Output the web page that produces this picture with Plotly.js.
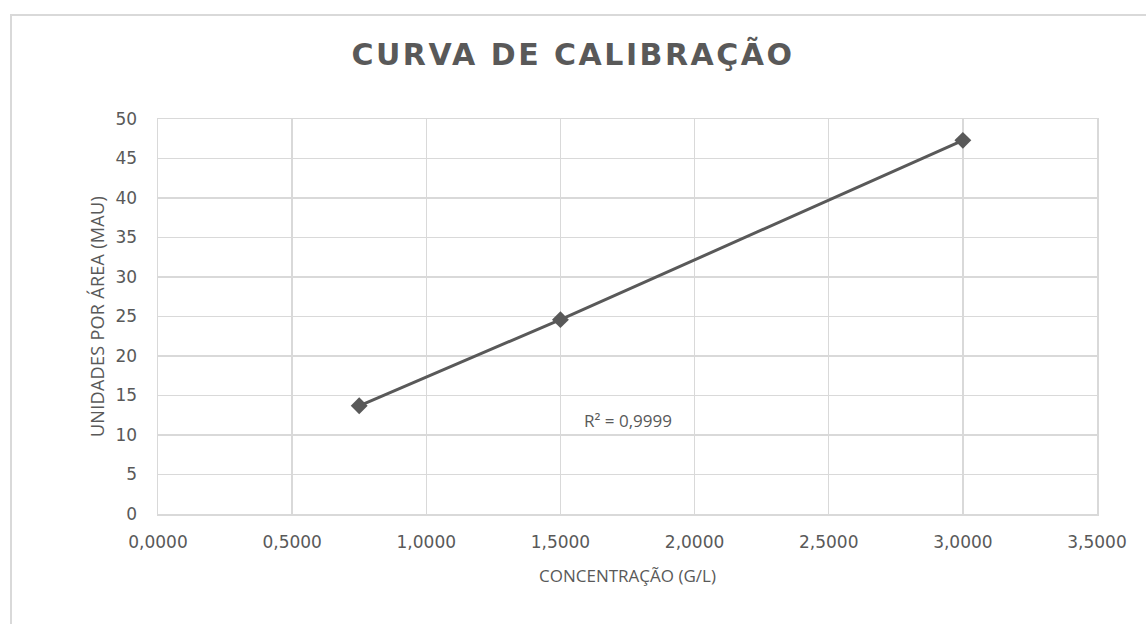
<!DOCTYPE html>
<html>
<head>
<meta charset="utf-8">
<script src="https://cdn.plot.ly/plotly-3.0.1.min.js"></script>
<style>
html,body{margin:0;padding:0;background:#fff;}
#wrap{position:relative;width:1146px;height:624px;overflow:hidden;}
#frame{position:absolute;left:10px;top:14px;width:1200px;height:700px;border:2px solid #d9d9d9;box-sizing:border-box;}
#chart{position:absolute;left:0;top:0;width:1146px;height:624px;}
</style>
</head>
<body>
<div id="wrap"><div id="frame"></div><div id="chart"></div></div>
<script>
const concentracao = [0.75, 1.5, 3.0];
const area = [13.7, 24.6, 47.3];
const xTickVals = [0, 0.5, 1.0, 1.5, 2.0, 2.5, 3.0, 3.5];
const xTickText = ["0,0000","0,5000","1,0000","1,5000","2,0000","2,5000","3,0000","3,5000"];
const yTickVals = [0,5,10,15,20,25,30,35,40,45,50];
const r2Label = "R² = 0,9999";

const gray = '#595959';
const font = '"Open Sans", "Liberation Sans", sans-serif';
const tickFont = '"DejaVu Sans", sans-serif';

Plotly.newPlot('chart', [{
  x: concentracao, y: area, type: 'scatter', mode: 'lines+markers',
  line: {color: gray, width: 3},
  marker: {symbol: 'diamond', size: 13, color: gray},
  hoverinfo: 'none', showlegend: false
}], {
  width: 1146, height: 624,
  paper_bgcolor: 'rgba(0,0,0,0)', plot_bgcolor: 'rgba(0,0,0,0)',
  margin: {l: 158, r: 49, t: 119, b: 110},
  title: {text: '<b>CURVA DE CALIBRAÇÃO</b>', x: 0.5, xanchor: 'center', y: 0.912, yanchor: 'middle',
    font: {family: '"DejaVu Sans", sans-serif', size: 30, color: gray}},
  xaxis: {range: [0, 3.5], tickvals: xTickVals, ticktext: xTickText,
    showgrid: true, gridcolor: '#d9d9d9', gridwidth: 1.5,
    showline: true, linecolor: '#d9d9d9', linewidth: 1.5, mirror: true,
    zeroline: false, ticks: '', ticklen: 0, ticklabelstandoff: 12,
    tickfont: {family: tickFont, size: 17, color: gray},
    title: {text: 'CONCENTRAÇÃO (G/L)', standoff: 19, font: {family: font, size: 17, color: gray}}},
  yaxis: {range: [0, 50], tickvals: yTickVals,
    showgrid: true, gridcolor: '#d9d9d9', gridwidth: 1.5,
    showline: true, linecolor: '#d9d9d9', linewidth: 1.5, mirror: true,
    zeroline: false, ticks: '', ticklen: 0, ticklabelstandoff: 16,
    tickfont: {family: tickFont, size: 17, color: gray},
    title: {text: 'UNIDADES POR ÁREA (MAU)', standoff: 6, font: {family: font, size: 18, color: gray}}},
  annotations: [{x: 1.75, y: 11.8, xref: 'x', yref: 'y', text: r2Label, showarrow: false,
    font: {family: font, size: 17, color: gray}}]
}, {staticPlot: true}).then(() => {
  const t = document.querySelector('.gtitle');
  if (t) t.style.letterSpacing = '2.5px';
  const yt = document.querySelector('.ytitle');
  if (yt) yt.style.letterSpacing = '0.3px';
});
</script>
</body>
</html>
